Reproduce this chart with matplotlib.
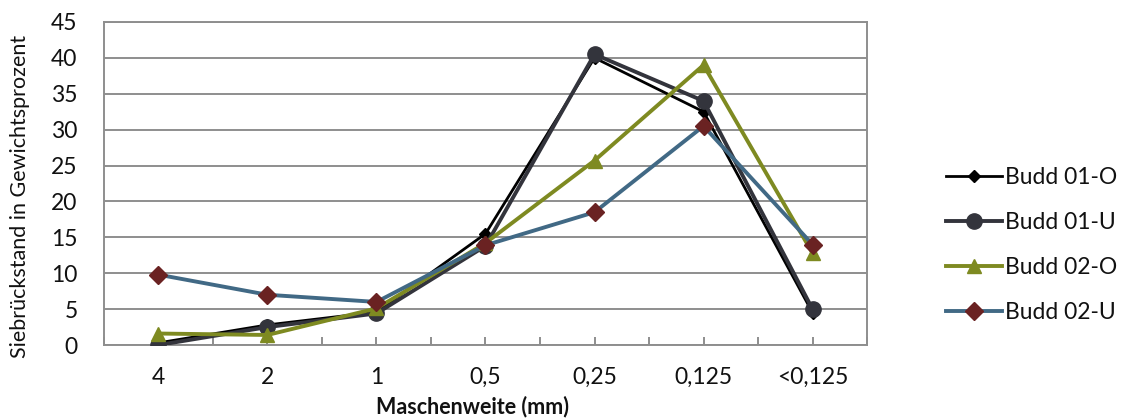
import matplotlib
matplotlib.use("Agg")
import matplotlib.pyplot as plt
from matplotlib.lines import Line2D

plt.rcParams['font.family'] = ['Lato', 'DejaVu Sans']

categories = ["4", "2", "1", "0,5", "0,25", "0,125", "<0,125"]
budd_01_o = [0.3, 2.8, 4.6, 15.5, 40.0, 32.5, 4.5]
budd_01_u = [0.0, 2.5, 4.4, 13.8, 40.5, 34.0, 5.0]
budd_02_o = [1.6, 1.4, 5.1, 14.2, 25.7, 39.0, 12.8]
budd_02_u = [9.8, 7.0, 6.0, 13.9, 18.5, 30.5, 14.0]
y_ticks = [0, 5, 10, 15, 20, 25, 30, 35, 40, 45]

fig = plt.figure(figsize=(11.25, 4.18), dpi=100)
ax = fig.add_axes([0.0924, 0.1746, 0.6783, 0.7728])

x = list(range(len(categories)))
grid_c = "#8e8e8e"
text_c = "#111111"

ax.plot(x, budd_01_o, color="#000000", lw=2.0, marker="D", ms=6,
        mfc="#000000", mec="#000000", zorder=3)
ax.plot(x, budd_01_u, color="#33343c", lw=2.8, marker="o", ms=11,
        mfc="#33343c", mec="#33343c", zorder=4)
ax.plot(x, budd_02_o, color="#7e8a21", lw=2.8, marker="^", ms=10.5,
        mfc="#7e8a21", mec="#7e8a21", zorder=5)
ax.plot(x, budd_02_u, color="#416985", lw=2.8, marker="D", ms=9,
        mfc="#6a2222", mec="#6a2222", zorder=6)

ax.set_xlim(-0.5, len(categories) - 0.5)
ax.set_ylim(0, 45)
ax.set_yticks(y_ticks)
ax.set_xticks(x)
ax.set_xticklabels(categories)
ax.set_xticks([i + 0.5 for i in range(-1, len(categories))], minor=True)

ax.yaxis.grid(True, color=grid_c, lw=1.4)
ax.set_axisbelow(True)
for side in ["left", "right", "top", "bottom"]:
    ax.spines[side].set_color(grid_c)
    ax.spines[side].set_linewidth(1.4)

ax.tick_params(axis="y", length=0, pad=19, labelsize=16.5, labelcolor=text_c)
ax.tick_params(axis="x", which="both", direction="in", length=6, width=1.4,
               color=grid_c, pad=16, labelsize=16.5, labelcolor=text_c)

# axis titles placed in figure coordinates
fig.text(20 / 1125, 1 - 196 / 418, "Siebrückstand in Gewichtsprozent",
         rotation=90, ha="center", va="center", fontsize=15.5, color=text_c)
fig.text(472 / 1125, 1 - 407 / 418, "Maschenweite (mm)", ha="center",
         va="center", fontsize=15.5, fontweight="bold", color=text_c)

handles = [
    Line2D([], [], color="#000000", lw=2.0, marker="D", ms=6),
    Line2D([], [], color="#33343c", lw=2.8, marker="o", ms=11),
    Line2D([], [], color="#7e8a21", lw=2.8, marker="^", ms=10.5),
    Line2D([], [], color="#416985", lw=2.8, marker="D", ms=9,
           mfc="#6a2222", mec="#6a2222"),
]
labels = ["Budd 01-O", "Budd 01-U", "Budd 02-O", "Budd 02-U"]
leg = fig.legend(handles, labels, loc="center left",
                 bbox_to_anchor=(946 / 1125, 1 - 245 / 418),
                 frameon=False, fontsize=16.5, handlelength=2.45,
                 handletextpad=0.13, labelspacing=1.04,
                 borderpad=0, borderaxespad=0)
for t in leg.get_texts():
    t.set_color(text_c)

fig.savefig("out.png", dpi=100)
